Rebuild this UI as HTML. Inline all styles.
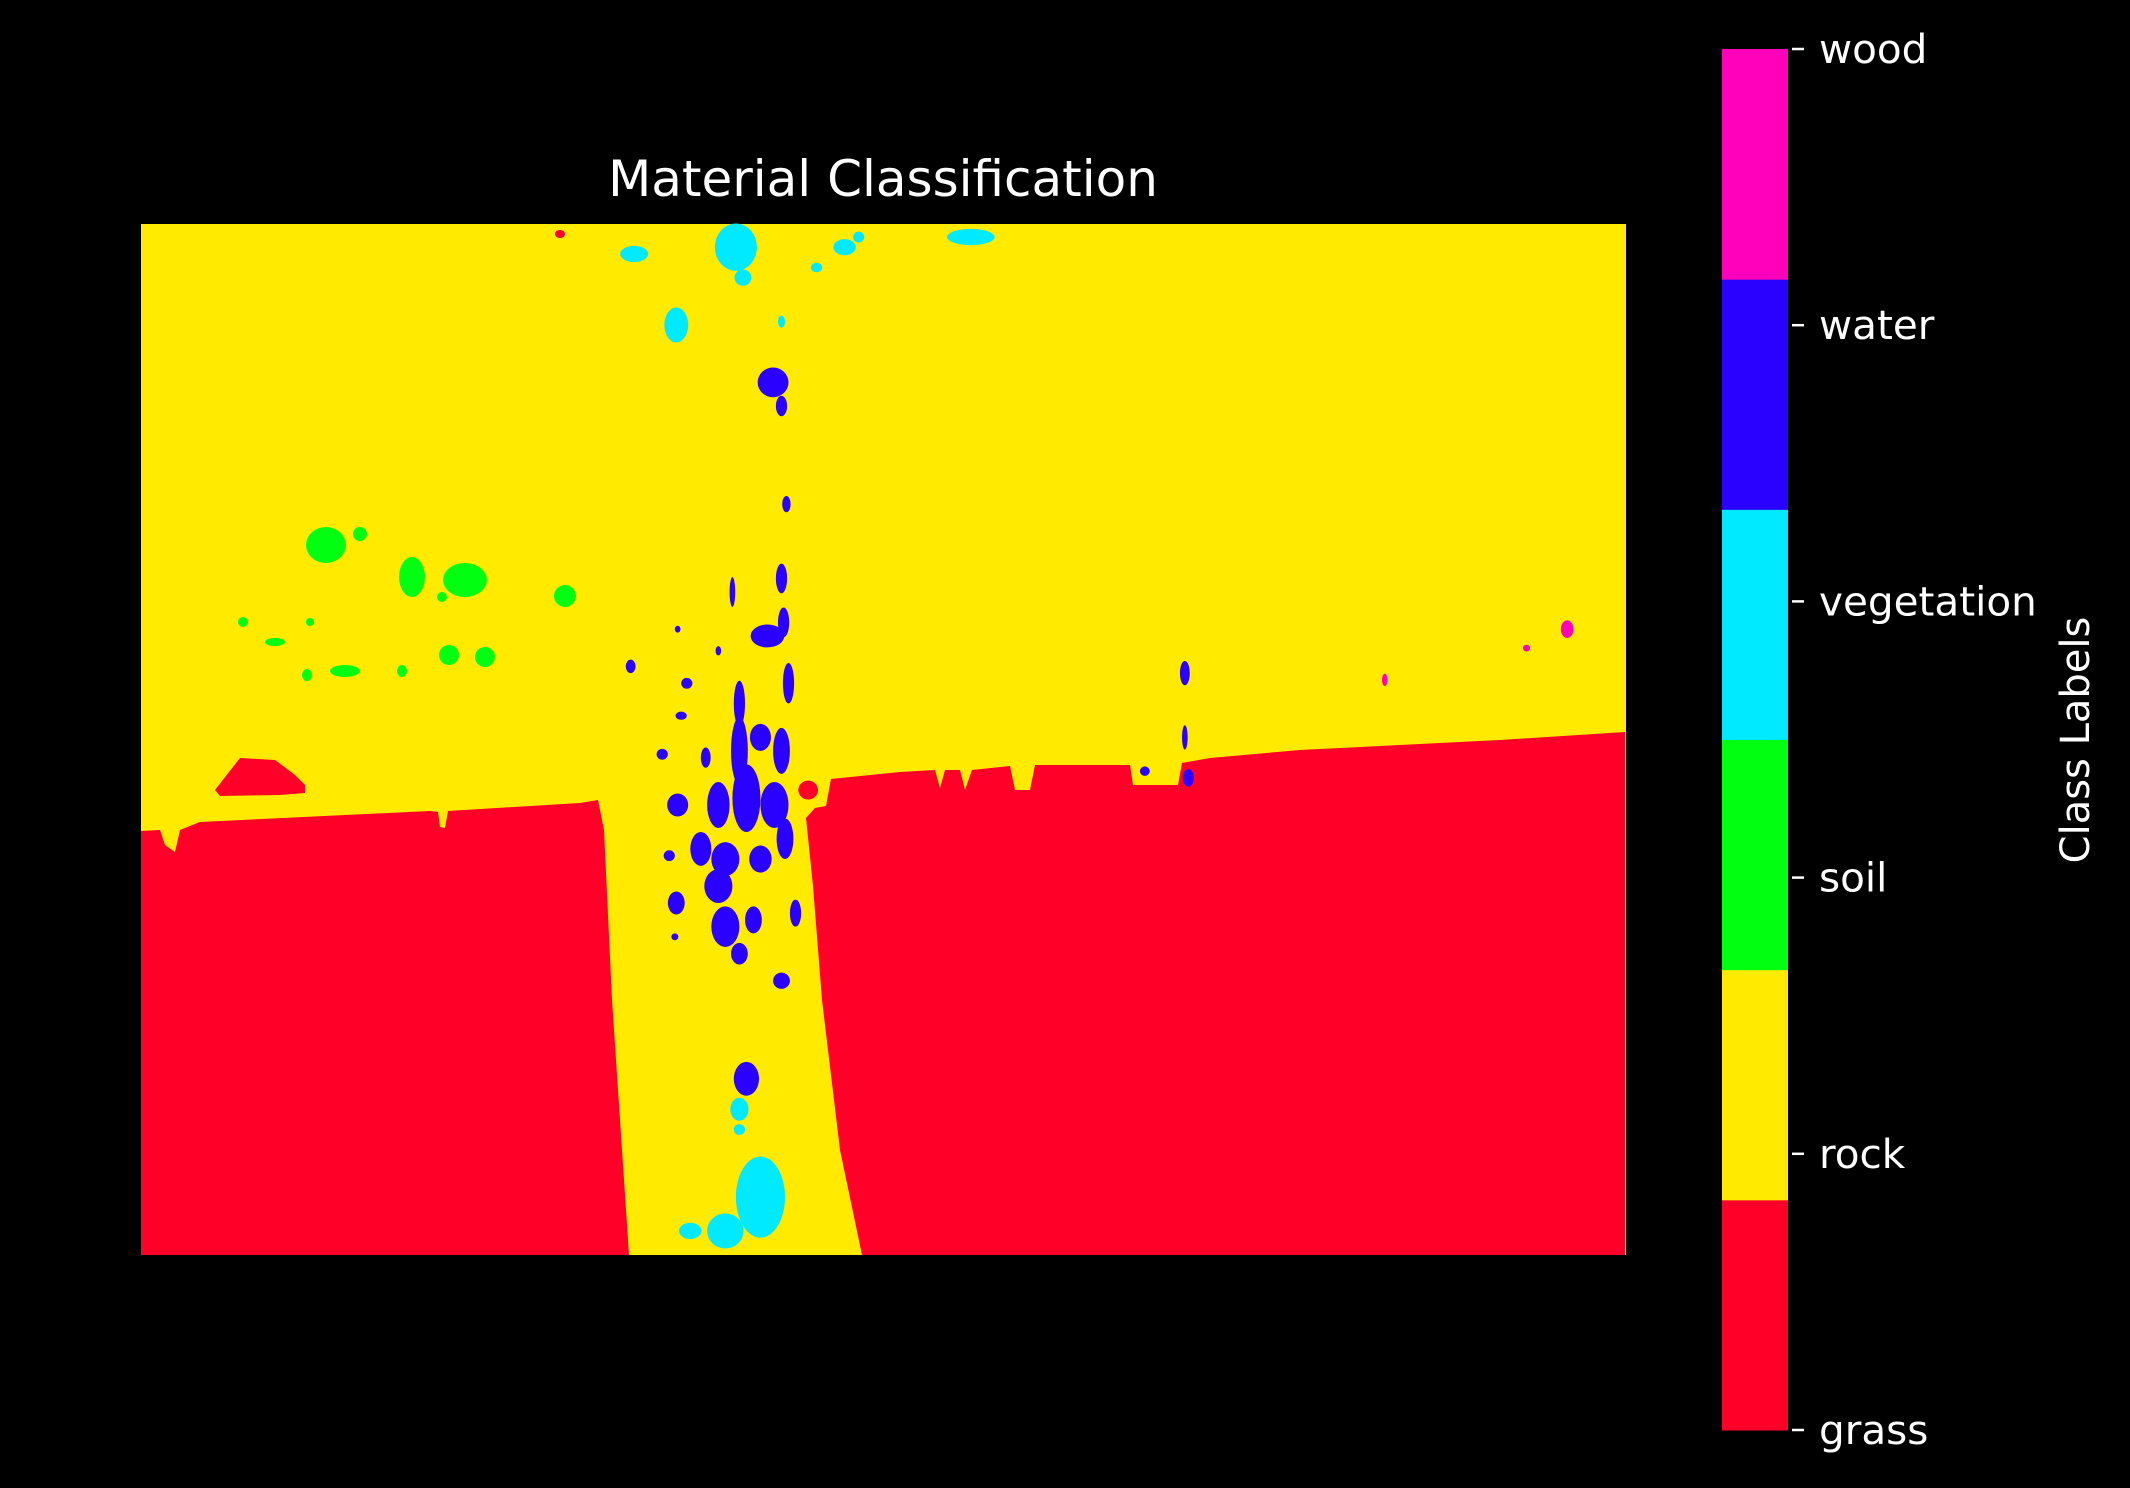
<!DOCTYPE html>
<html><head><meta charset="utf-8"><title>Material Classification</title>
<style>
html,body{margin:0;padding:0;background:#000;}
svg{display:block;}
text{font-family:"DejaVu Sans","Liberation Sans",sans-serif;fill:#fff;}
</style></head>
<body>
<svg id="fig" width="2130" height="1488" viewBox="0 0 2130 1488" xmlns="http://www.w3.org/2000/svg">
<rect width="2130" height="1488" fill="#000"/>
<text x="883" y="196" font-size="50" text-anchor="middle">Material Classification</text>
<g id="map">
  <rect x="141" y="224" width="1485" height="1031" fill="#ffea00"/>
  <path fill="#ff0028" d="M141,831 L160,830 L165,845 L175,852 L180,830 L200,822 L430,811 L438,812 L440,827 L445,828 L448,811 L580,803 L598,800 L604,830 L612,1000 L629,1255 L141,1255 Z"/>
  <path fill="#ff0028" d="M806,818 L815,808 L826,806 L831,779 L900,772 L935,770 L940,788 L945,770 L960,770 L965,790 L972,770 L1010,766 L1015,790 L1030,790 L1035,765 L1130,765 L1133,785 L1178,785 L1182,763 L1210,758 L1300,750 L1400,745 L1500,740 L1625,732 L1625,1255 L862,1255 L840,1150 L822,1000 L813,886 Z"/>
  <path fill="#ff0028" d="M215,790 L240,758 L275,760 L295,775 L305,785 L305,793 L280,795 L220,796 Z"/>
  <g id="blobs"></g>
  <g id="blobsZ" transform="translate(550,210) scale(0.7015,0.6761)"></g>
</g>
<g id="cbar"></g>
<text transform="translate(2089,740) rotate(-90)" font-size="40" text-anchor="middle">Class Labels</text>
</svg>
<script>
const classes = ["grass","rock","soil","vegetation","water","wood"];
const classColors = ["#ff0028","#ffea00","#00ff10","#00eaff","#2a00ff","#ff00bb"];
const classIndex = [0,1,2,3,4,5];
// blobs in actual pixel coords: [cx, cy, rx, ry, class]
const blobsActual = [
 [326,545,20,18,2],[360,534,7,7,2],[412,577,13,20,2],[465,580,22,17,2],[442,597,5,5,2],[565,596,11,11,2],
 [243,622,5,5,2],[310,622,4,4,2],[275,642,10,4,2],[307,675,5,6,2],[345,671,15,6,2],[402,671,5,6,2],
 [449,655,10,10,2],[485,657,10,10,2],[560,234,5,4,0]
];
// blobs in zoomed-crop coords (transformed group): [cx, cy, rx, ry, class]
const blobsZoom = [
 [318,255,22,22,4],[330,290,8,15,4],[337,435,6,12,4],[330,545,8,22,4],[310,630,24,17,4],[333,610,8,22,4],
 [340,700,8,30,4],[115,675,7,10,4],[195,700,8,8,4],[187,748,8,6,4],[240,652,4,7,4],[182,620,4,5,4],
 [270,730,8,34,4],[270,800,12,50,4],[300,780,15,20,4],[330,800,12,34,4],[160,805,8,8,4],[222,810,7,15,4],
 [182,880,15,17,4],[240,880,16,34,4],[280,870,20,50,4],[320,880,20,34,4],[335,930,12,30,4],[215,945,15,25,4],
 [250,960,20,25,4],[170,955,8,8,4],[300,960,16,20,4],[180,1025,12,17,4],[240,1000,20,25,4],[250,1060,20,30,4],
 [290,1050,12,20,4],[350,1040,8,20,4],[270,1100,12,16,4],[330,1140,12,12,4],[178,1075,5,5,4],[280,1285,18,25,4],
 [905,685,7,18,4],[905,780,4,18,4],[910,840,8,13,4],[848,830,7,7,4],[260,565,4,22,4],
 [265,55,30,35,3],[275,100,12,12,3],[180,170,17,26,3],[120,65,20,12,3],[380,85,8,7,3],[330,165,5,9,3],
 [420,55,16,12,3],[600,40,34,12,3],[300,1460,35,60,3],[250,1510,26,26,3],[200,1510,16,12,3],[270,1330,13,17,3],
 [270,1360,8,8,3],[440,40,8,8,3],
 [1450,620,9,13,5],[1392,648,5,5,5],[1190,695,4,9,5],
 [368,858,14,14,0],[20,572,14,14,2]
];
const NS="http://www.w3.org/2000/svg";
function drawBlobs(list, gid){
  const g=document.getElementById(gid);
  list.forEach(b=>{
    const e=document.createElementNS(NS,"ellipse");
    e.setAttribute("cx",b[0]);e.setAttribute("cy",b[1]);e.setAttribute("rx",b[2]);e.setAttribute("ry",b[3]);
    e.setAttribute("fill",classColors[b[4]]);
    
    
    g.appendChild(e);
  });
}
drawBlobs(blobsActual,"blobs");
drawBlobs(blobsZoom,"blobsZ");
// colorbar
const cbX=1722, cbW=66, cbTop=49, cbBot=1430;
const vmin=-0.5, vmax=classes.length-0.5;
function yScale(v){return cbBot-(v-vmin)/(vmax-vmin)*(cbBot-cbTop);}
const cb=document.getElementById("cbar");
classIndex.forEach(i=>{
  const r=document.createElementNS(NS,"rect");
  r.setAttribute("x",cbX);r.setAttribute("width",cbW);
  r.setAttribute("y",yScale(i+0.5));r.setAttribute("height",yScale(i-0.5)-yScale(i+0.5)+0.5);
  r.setAttribute("fill",classColors[i]);
  
  
  cb.appendChild(r);
});
const tickVals = [0,1,2,3,4,5];
const tickTop=cbTop, tickBot=cbBot;
tickVals.forEach(i=>{
  const y=tickBot-(i/(classes.length-1))*(tickBot-tickTop);
  const l=document.createElementNS(NS,"line");
  l.setAttribute("x1",1792);l.setAttribute("x2",1804);l.setAttribute("y1",y);l.setAttribute("y2",y);
  l.setAttribute("stroke","#fff");l.setAttribute("stroke-width","2.5");
  
  
  cb.appendChild(l);
  const t=document.createElementNS(NS,"text");
  t.setAttribute("x",1819);t.setAttribute("y",y+14);t.setAttribute("font-size","40.5");
  t.textContent=classes[i];
  
  
  cb.appendChild(t);
});
</script>
</body></html>
